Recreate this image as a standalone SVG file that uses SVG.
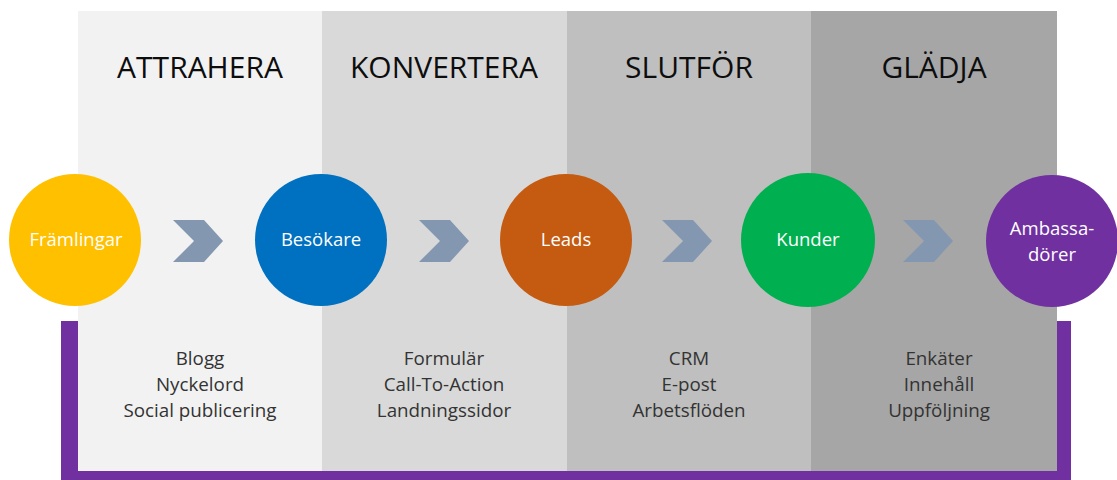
<svg xmlns="http://www.w3.org/2000/svg" width="1117" height="480" viewBox="0 0 1117 480">
  <style>
    .head { font-family: "Open Sans", "DejaVu Sans", sans-serif; font-size: 30px; fill: #0d0d0d; text-anchor: middle; }
    .node-label { font-family: "Open Sans", "DejaVu Sans", sans-serif; font-size: 18.5px; fill: #ffffff; text-anchor: middle; }
    .item { font-family: "Open Sans", "DejaVu Sans", sans-serif; font-size: 18.8px; fill: #333333; text-anchor: middle; }
    .chev { fill: #8497B0; }
  </style>
  <defs>
    <polygon id="chevron" points="0,0 31,0 50,21 31,42 0,42 21,21"/>
  </defs>

  <rect width="1117" height="480" fill="#ffffff"/>

  <!-- purple bracket behind the stage panels -->
  <rect x="61" y="321" width="1010" height="170" fill="#7030A0"/>

  <!-- stage panels -->
  <g id="stages">
    <rect x="78" y="11" width="244" height="460" fill="#F2F2F2"/>
    <rect x="322" y="11" width="245" height="460" fill="#D9D9D9"/>
    <rect x="567" y="11" width="244" height="460" fill="#BFBFBF"/>
    <rect x="811" y="11" width="246" height="460" fill="#A6A6A6"/>
  </g>

  <!-- stage headings -->
  <g id="headings">
    <text class="head" x="200" y="78">ATTRAHERA</text>
    <text class="head" x="444" y="78">KONVERTERA</text>
    <text class="head" x="689" y="78">SLUTFÖR</text>
    <text class="head" x="934" y="78">GLÄDJA</text>
  </g>

  <!-- tools per stage -->
  <g id="tools">
    <text class="item" x="200" y="365">Blogg</text>
    <text class="item" x="200" y="391">Nyckelord</text>
    <text class="item" x="200" y="417">Social publicering</text>
    <text class="item" x="444" y="365">Formulär</text>
    <text class="item" x="444" y="391">Call-To-Action</text>
    <text class="item" x="444" y="417">Landningssidor</text>
    <text class="item" x="689" y="365">CRM</text>
    <text class="item" x="689" y="391">E-post</text>
    <text class="item" x="689" y="417">Arbetsflöden</text>
    <text class="item" x="939" y="365">Enkäter</text>
    <text class="item" x="939" y="391">Innehåll</text>
    <text class="item" x="939" y="417">Uppföljning</text>
  </g>

  <!-- connectors -->
  <g id="connectors">
    <use href="#chevron" class="chev" x="173" y="220"/>
    <use href="#chevron" class="chev" x="419" y="220"/>
    <use href="#chevron" class="chev" x="662" y="220"/>
    <use href="#chevron" class="chev" x="903" y="220"/>
  </g>

  <!-- nodes -->
  <g id="node-framlingar">
    <circle cx="75" cy="240" r="66" fill="#FFC000"/>
    <text class="node-label" x="76" y="246">Främlingar</text>
  </g>
  <g id="node-besokare">
    <circle cx="321" cy="240" r="66" fill="#0070C0"/>
    <text class="node-label" x="321" y="246">Besökare</text>
  </g>
  <g id="node-leads">
    <circle cx="566" cy="240" r="66" fill="#C55A11"/>
    <text class="node-label" x="566" y="246">Leads</text>
  </g>
  <g id="node-kunder">
    <circle cx="808" cy="240" r="67" fill="#00B050"/>
    <text class="node-label" x="808" y="246">Kunder</text>
  </g>
  <g id="node-ambassadorer">
    <circle cx="1052" cy="241" r="66" fill="#7030A0"/>
    <text class="node-label" x="1052" y="235">Ambassa-</text>
    <text class="node-label" x="1052" y="261">dörer</text>
  </g>
</svg>
